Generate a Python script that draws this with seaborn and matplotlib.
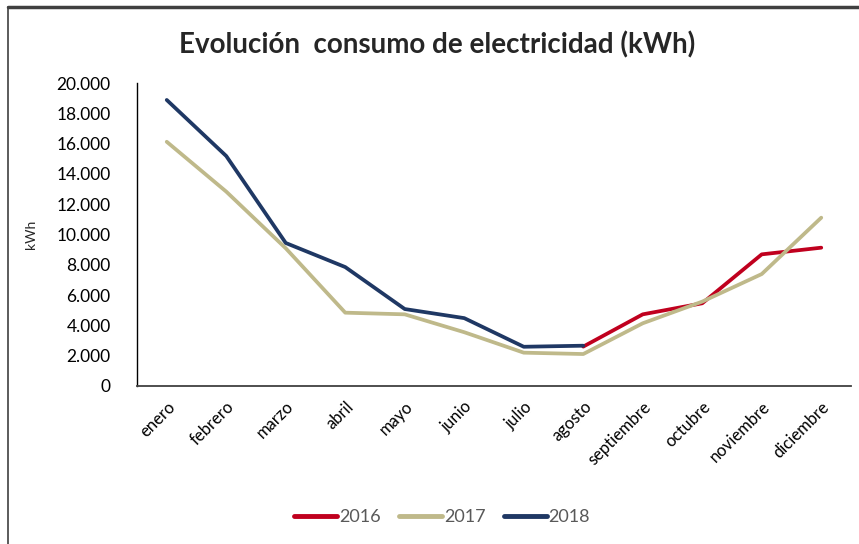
import numpy as np
import pandas as pd
import matplotlib
matplotlib.use("Agg")
import matplotlib.pyplot as plt
from matplotlib.lines import Line2D
import seaborn as sns

months = ["enero", "febrero", "marzo", "abril", "mayo", "junio", "julio",
          "agosto", "septiembre", "octubre", "noviembre", "diciembre"]
years = ["2016", "2017", "2018"]
v2016 = [np.nan, np.nan, np.nan, np.nan, np.nan, np.nan, np.nan,
         2600, 4730, 5460, 8690, 9130]
v2017 = [16120, 12830, 9090, 4840, 4730, 3550, 2200, 2110, 4140, 5570, 7390, 11110]
v2018 = [18880, 15180, 9440, 7850, 5080, 4480, 2590, 2660,
         np.nan, np.nan, np.nan, np.nan]
colors = ["#C0001E", "#BFB98A", "#1F3864"]

rows = []
for yr, vals in zip(years, [v2016, v2017, v2018]):
    for i, v in enumerate(vals):
        if not np.isnan(v):
            rows.append({"mes": i, "kWh": v, "año": yr})
df = pd.DataFrame(rows)

sns.set_style("white")
plt.rcParams["font.family"] = ["Lato", "DejaVu Sans"]

fig = plt.figure(figsize=(8.59, 5.44), dpi=100)
ax = fig.add_axes([137 / 859, 1 - 386 / 544, 714 / 859, 303 / 544])

sns.lineplot(data=df, x="mes", y="kWh", hue="año", hue_order=years,
             palette=dict(zip(years, colors)), linewidth=2.7, ax=ax,
             sort=False, legend=False)

ax.set_xlim(-0.5, 11.5)
ax.set_ylim(0, 20000)
ax.set_yticks(np.arange(0, 20001, 2000))
ax.set_yticklabels([f"{int(v):,}".replace(",", ".") for v in np.arange(0, 20001, 2000)],
                   fontsize=12.5, color="#000000")
ax.set_xticks(range(len(months)))
ax.set_xticklabels(months, rotation=45, ha="right", rotation_mode="anchor",
                   fontsize=12, color="#000000")
ax.tick_params(axis="y", length=0, pad=19)
ax.tick_params(axis="x", length=0, pad=9)
for s in ["top", "right"]:
    ax.spines[s].set_visible(False)
ax.spines["left"].set_color("#000000")
ax.spines["left"].set_linewidth(1.0)
ax.spines["bottom"].set_color("#404040")
ax.spines["bottom"].set_linewidth(1.3)
ax.set_xlabel("")
ax.set_ylabel("kWh", fontsize=10, labelpad=14)
ax.grid(False)

fig.text(437 / 859, 1 - 45 / 544, "Evolución  consumo de electricidad (kWh)",
         ha="center", va="center", fontsize=20, fontweight="bold")

handles = [Line2D([0], [0], color=c, lw=3.5) for c in colors]
leg = fig.legend(handles, years, loc="center", bbox_to_anchor=(442 / 859, 1 - 517 / 544),
                 ncol=3, frameon=False, fontsize=13, handlelength=2.4,
                 handletextpad=0.1, columnspacing=1.0)
for t in leg.get_texts():
    t.set_color("#595959")

# outer frame lines
fig.add_artist(Line2D([8 / 859, 1], [1 - 6.5 / 544, 1 - 6.5 / 544],
                      transform=fig.transFigure, color="#404040", lw=2.5))
fig.add_artist(Line2D([8 / 859, 8 / 859], [0, 1 - 6.5 / 544],
                      transform=fig.transFigure, color="#404040", lw=1.2))

fig.savefig("out.png", dpi=100)
